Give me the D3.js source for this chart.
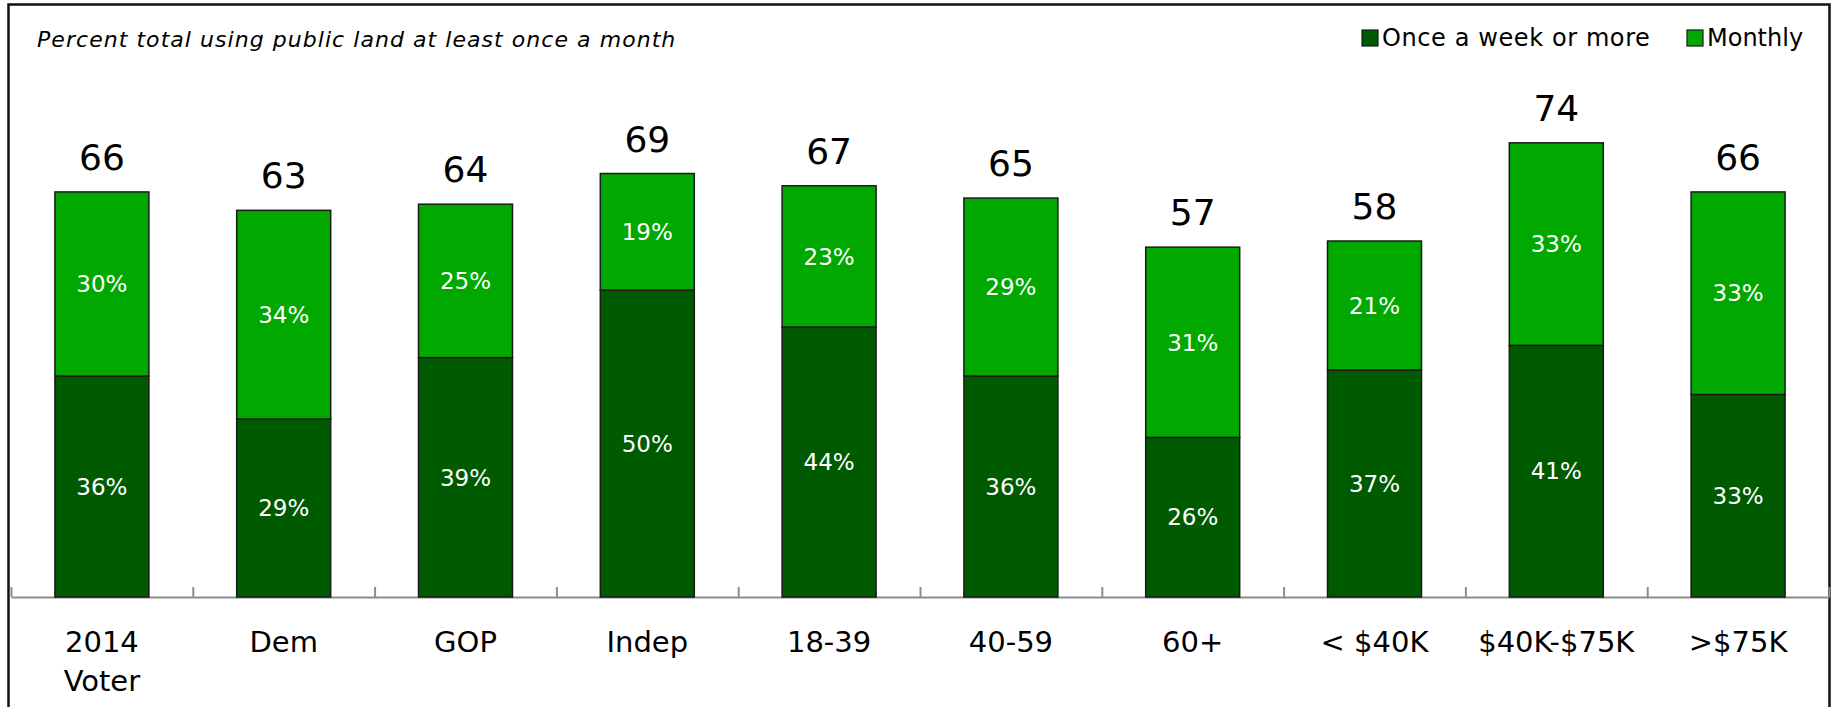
<!DOCTYPE html>
<html lang="en">
<head>
    <meta charset="UTF-8">
    <title>Percent total using public land at least once a month</title>
    <script src="https://d3js.org/d3.v7.min.js"></script>
    <style>
        body {
            margin: 0;
            background: #fff;
            font-family: "DejaVu Sans", sans-serif;
        }
        .seg-label {
            fill: white;
            font-size: 23px;
        }
        .total-label {
            fill: black;
            font-size: 36px;
        }
        .cat-label {
            fill: black;
            font-size: 29px;
        }
    </style>
</head>
<body>
<div id="chart"></div>
<script>
    // data
    const categories = ["2014\nVoter", "Dem", "GOP", "Indep", "18-39", "40-59", "60+", "< $40K", "$40K-$75K", ">$75K"];
    const weekly  = [36, 29, 39, 50, 44, 36, 26, 37, 41, 33];
    const monthly = [30, 34, 25, 19, 23, 29, 31, 21, 33, 33];
    const totals  = [66, 63, 64, 69, 67, 65, 57, 58, 74, 66];
    const seriesNames = ["Once a week or more", "Monthly"];
    const colors = ["#005a00", "#00a800"];

    const W = 1837, H = 707;
    const svg = d3.select("#chart").append("svg")
        .attr("width", W)
        .attr("height", H);

    // frame
    svg.append("rect")
        .attr("x", 8.5).attr("y", 4.5)
        .attr("width", 1821).attr("height", 760)
        .attr("fill", "none")
        .attr("stroke", "#111")
        .attr("stroke-width", 2.5);

    // title
    svg.append("text")
        .attr("x", 37).attr("y", 47)
        .attr("font-size", 22)
        .attr("font-style", "italic")
        .attr("letter-spacing", 1.05)
        .text("Percent total using public land at least once a month");

    const x = d3.scaleBand()
        .domain(categories)
        .range([11, 1829])
        .paddingInner(0.483)
        .paddingOuter(0.2415);

    const y = d3.scaleLinear()
        .domain([0, 80])
        .range([597, 106]);

    // axis line with ticks between categories
    const edges = d3.scaleLinear().domain([0, categories.length]).range(x.range());
    svg.append("g")
        .attr("transform", `translate(0,${y(0)})`)
        .call(d3.axisBottom(edges).ticks(categories.length).tickSize(-10).tickSizeOuter(0).tickFormat(""))
        .call(g => g.selectAll("line, path").attr("stroke", "#8c8c8c").attr("stroke-width", 2));

    // stacked data
    const rows = categories.map((c, i) => ({cat: c, weekly: weekly[i], monthly: monthly[i], total: totals[i]}));
    const stack = d3.stack().keys(["weekly", "monthly"])(rows);

    const layer = svg.selectAll(".layer")
        .data(stack)
        .enter().append("g")
        .attr("fill", (d, i) => colors[i]);

    layer.selectAll("rect")
        .data(d => d)
        .enter().append("rect")
        .attr("x", d => x(d.data.cat))
        .attr("y", d => y(d[1]))
        .attr("width", x.bandwidth())
        .attr("height", d => y(d[0]) - y(d[1]))
        .attr("stroke", "#1a1a1a")
        .attr("stroke-width", 1.5);

    layer.selectAll(".seg-label")
        .data(d => d)
        .enter().append("text")
        .attr("class", "seg-label")
        .attr("x", d => x(d.data.cat) + x.bandwidth() / 2)
        .attr("y", d => (y(d[0]) + y(d[1])) / 2)
        .attr("dy", "0.36em")
        .attr("text-anchor", "middle")
        .text(d => (d[1] - d[0]) + "%");

    // totals above bars
    svg.selectAll(".total-label")
        .data(rows)
        .enter().append("text")
        .attr("class", "total-label")
        .attr("x", d => x(d.cat) + x.bandwidth() / 2)
        .attr("y", d => y(d.total) - 22)
        .attr("text-anchor", "middle")
        .text(d => d.total);

    // category labels
    const catText = svg.selectAll(".cat-label")
        .data(categories)
        .enter().append("text")
        .attr("class", "cat-label")
        .attr("text-anchor", "middle")
        .attr("transform", d => `translate(${x(d) + x.bandwidth() / 2},${y(0) + 55})`);
    catText.selectAll("tspan")
        .data(d => d.split("\n"))
        .enter().append("tspan")
        .attr("x", 0)
        .attr("y", (d, i) => i * 39)
        .text(d => d);

    // legend
    const legendX = [1362, 1687];
    const legend = svg.selectAll(".legend")
        .data(seriesNames)
        .enter().append("g")
        .attr("transform", (d, i) => `translate(${legendX[i]},0)`);
    legend.append("rect")
        .attr("x", 0).attr("y", 30)
        .attr("width", 16).attr("height", 16)
        .attr("fill", (d, i) => colors[i])
        .attr("stroke", "#1a1a1a")
        .attr("stroke-width", 1.2);
    legend.append("text")
        .attr("x", 20).attr("y", 46)
        .attr("font-size", 24)
        .attr("letter-spacing", (d, i) => i === 0 ? 0.6 : 0)
        .text(d => d);
</script>
</body>
</html>
